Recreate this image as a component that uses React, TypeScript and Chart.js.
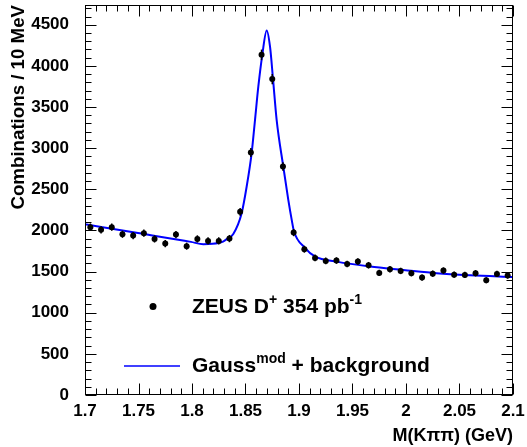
import React, { useEffect, useRef } from 'react';
import { Chart, registerables } from 'chart.js';

Chart.register(...registerables);

// ---- data ----
const MASS = [
  1.705, 1.715, 1.725, 1.735, 1.745, 1.755, 1.765, 1.775, 1.785, 1.795,
  1.805, 1.815, 1.825, 1.835, 1.845, 1.855, 1.865, 1.875, 1.885, 1.895,
  1.905, 1.915, 1.925, 1.935, 1.945, 1.955, 1.965, 1.975, 1.985, 1.995,
  2.005, 2.015, 2.025, 2.035, 2.045, 2.055, 2.065, 2.075, 2.085, 2.095,
];
const COUNTS = [
  2040, 2007, 2040, 1954, 1938, 1966, 1897, 1840, 1950, 1809,
  1897, 1873, 1873, 1901, 2226, 2947, 4134, 3840, 2777, 1974,
  1772, 1666, 1630, 1634, 1593, 1622, 1577, 1484, 1529, 1508,
  1480, 1427, 1475, 1512, 1463, 1459, 1480, 1395, 1472, 1451,
];
const ERRORS = [
  45, 45, 45, 44, 44, 44, 44, 43, 44, 43,
  44, 43, 43, 44, 47, 54, 64, 62, 53, 44,
  42, 41, 40, 40, 40, 40, 40, 39, 39, 39,
  38, 38, 38, 39, 38, 38, 38, 37, 38, 38,
];
const FIT_MASS = [
  1.7, 1.7495, 1.799, 1.8106, 1.8192, 1.829, 1.8324, 1.8386, 1.8464, 1.8511,
  1.8558, 1.8589, 1.862, 1.8657, 1.8698, 1.8729, 1.8757, 1.8791, 1.8853, 1.89,
  1.8932, 1.8953, 1.9053, 1.9152, 1.9352, 1.9664, 1.9975, 2.0287, 2.0598, 2.1,
];
const FIT_VALUES = [
  2076, 1968, 1861, 1833, 1837, 1865, 1894, 1958, 2210, 2534,
  2947, 3345, 3750, 4134, 4431, 4236, 3843, 3345, 2777, 2372,
  2128, 1990, 1792, 1682, 1621, 1561, 1520, 1480, 1456, 1435,
];
const X_TICKS = [1.7, 1.75, 1.8, 1.85, 1.9, 1.95, 2, 2.05, 2.1];
const Y_TICKS = [0, 500, 1000, 1500, 2000, 2500, 3000, 3500, 4000, 4500];
const X_MIN = 1.7;
const X_MAX = 2.1;
const Y_MIN = 0;
const Y_MAX = 4740;

const FONT = '"Liberation Sans", Arial, Helvetica, sans-serif';
const BLUE = '#0000ff';

type Part = { t: string; sup?: boolean };

function drawRich(ctx: CanvasRenderingContext2D, x: number, y: number, parts: Part[]) {
  let cx = x;
  for (const p of parts) {
    ctx.font = p.sup ? `bold 14px ${FONT}` : `bold 21px ${FONT}`;
    ctx.fillText(p.t, cx, p.sup ? y - 9 : y);
    cx += ctx.measureText(p.t).width;
  }
}

const rootStyle = {
  id: 'rootStyle',
  afterDatasetsDraw(chart: any) {
    const { ctx, chartArea: a, scales } = chart;
    const x = scales.x;
    const y = scales.y;
    ctx.save();
    // error bars
    ctx.strokeStyle = '#000';
    ctx.lineWidth = 1.5;
    MASS.forEach((m, i) => {
      const px = x.getPixelForValue(m);
      ctx.beginPath();
      ctx.moveTo(px, y.getPixelForValue(COUNTS[i] - ERRORS[i]));
      ctx.lineTo(px, y.getPixelForValue(COUNTS[i] + ERRORS[i]));
      ctx.stroke();
    });

    // frame
    ctx.lineWidth = 1;
    const L = Math.round(a.left) + 0.5;
    const R = Math.round(a.right) - 0.5;
    const T = Math.round(a.top) + 0.5;
    const B = Math.round(a.bottom) - 0.5;
    ctx.strokeRect(L, T, R - L, B - T);

    // inside ticks
    const MAJ = 11;
    const MIN = 6;
    ctx.beginPath();
    for (let k = 0; k <= 40; k++) {
      const v = X_MIN + k * 0.01;
      if (v > X_MAX + 1e-9) break;
      const px = Math.round(x.getPixelForValue(v)) + 0.5;
      const len = k % 5 === 0 ? MAJ : MIN;
      ctx.moveTo(px, B);
      ctx.lineTo(px, B - len);
      ctx.moveTo(px, T);
      ctx.lineTo(px, T + len);
    }
    for (let v = Y_MIN; v <= Y_MAX; v += 100) {
      const py = Math.round(y.getPixelForValue(v)) + 0.5;
      const len = v % 500 === 0 ? MAJ : MIN;
      ctx.moveTo(L, py);
      ctx.lineTo(L + len, py);
      ctx.moveTo(R, py);
      ctx.lineTo(R - len, py);
    }
    ctx.stroke();
    ctx.restore();
  },
  afterDraw(chart: any) {
    const { ctx } = chart;
    ctx.save();
    ctx.fillStyle = '#000';
    ctx.textBaseline = 'alphabetic';
    ctx.textAlign = 'left';
    // legend entry 1: marker
    ctx.beginPath();
    ctx.arc(153, 306.5, 3.5, 0, Math.PI * 2);
    ctx.fill();
    drawRich(ctx, 192, 313, [
      { t: 'ZEUS D' },
      { t: '+', sup: true },
      { t: ' 354 pb' },
      { t: '-1', sup: true },
    ]);
    // legend entry 2: line
    ctx.strokeStyle = BLUE;
    ctx.lineWidth = 1.5;
    ctx.beginPath();
    ctx.moveTo(124, 366);
    ctx.lineTo(180, 366);
    ctx.stroke();
    drawRich(ctx, 192, 372, [
      { t: 'Gauss' },
      { t: 'mod', sup: true },
      { t: ' + background' },
    ]);
    ctx.restore();
  },
};

export default function App() {
  const ref = useRef<HTMLCanvasElement | null>(null);

  useEffect(() => {
    if (!ref.current) return;
    const tickFont = { family: FONT, weight: 'bold' as const, size: 17 };
    const chart = new Chart(ref.current, {
      type: 'scatter',
      data: {
        datasets: [
          {
            type: 'line',
            label: 'Gauss mod + background',
            data: FIT_MASS.map((m, i) => ({ x: m, y: FIT_VALUES[i] })),
            borderColor: BLUE,
            borderWidth: 2,
            pointRadius: 0,
            cubicInterpolationMode: 'monotone',
            fill: false,
            order: 1,
          } as any,
          {
            type: 'scatter',
            label: 'ZEUS D+ 354 pb-1',
            data: MASS.map((m, i) => ({ x: m, y: COUNTS[i] })),
            pointRadius: 3,
            pointBackgroundColor: '#000',
            pointBorderColor: '#000',
            pointBorderWidth: 0,
            order: 0,
          },
        ],
      },
      options: {
        responsive: false,
        animation: false,
        layout: { padding: { left: 0, right: 14, top: 5, bottom: 0 } },
        plugins: {
          legend: { display: false },
          tooltip: { enabled: false },
        },
        scales: {
          x: {
            type: 'linear',
            min: X_MIN,
            max: X_MAX,
            afterBuildTicks: (s: any) => {
              s.ticks = X_TICKS.map((v) => ({ value: v }));
            },
            afterFit: (s: any) => {
              s.height = 52;
            },
            grid: { display: false },
            border: { display: false },
            ticks: {
              color: '#000',
              font: tickFont,
              padding: -2,
              maxRotation: 0,
              autoSkip: false,
              callback: (v: any) => String(v),
            },
            title: {
              display: true,
              text: 'M(Kππ) (GeV)',
              align: 'end',
              color: '#000',
              font: { family: FONT, weight: 'bold' as const, size: 18 },
              padding: { top: 0, bottom: 0 },
            },
          },
          y: {
            type: 'linear',
            min: Y_MIN,
            max: Y_MAX,
            afterBuildTicks: (s: any) => {
              s.ticks = Y_TICKS.map((v) => ({ value: v }));
            },
            afterFit: (s: any) => {
              s.width = 85;
              s.paddingTop = 0;
              s.paddingBottom = 0;
            },
            grid: { display: false },
            border: { display: false },
            ticks: {
              color: '#000',
              font: tickFont,
              padding: 8,
              autoSkip: false,
              callback: (v: any) => String(v),
            },
            title: {
              display: true,
              text: 'Combinations / 10 MeV',
              align: 'end',
              color: '#000',
              font: { family: FONT, weight: 'bold' as const, size: 18.7 },
              padding: { top: 8, bottom: 0 },
            },
          },
        },
      },
      plugins: [rootStyle],
    });
    return () => chart.destroy();
  }, []);

  return (
    <div style={{ position: 'absolute', left: 0, top: 0, width: 527, height: 447 }}>
      <canvas ref={ref} width={527} height={447} style={{ display: 'block' }} />
    </div>
  );
}
